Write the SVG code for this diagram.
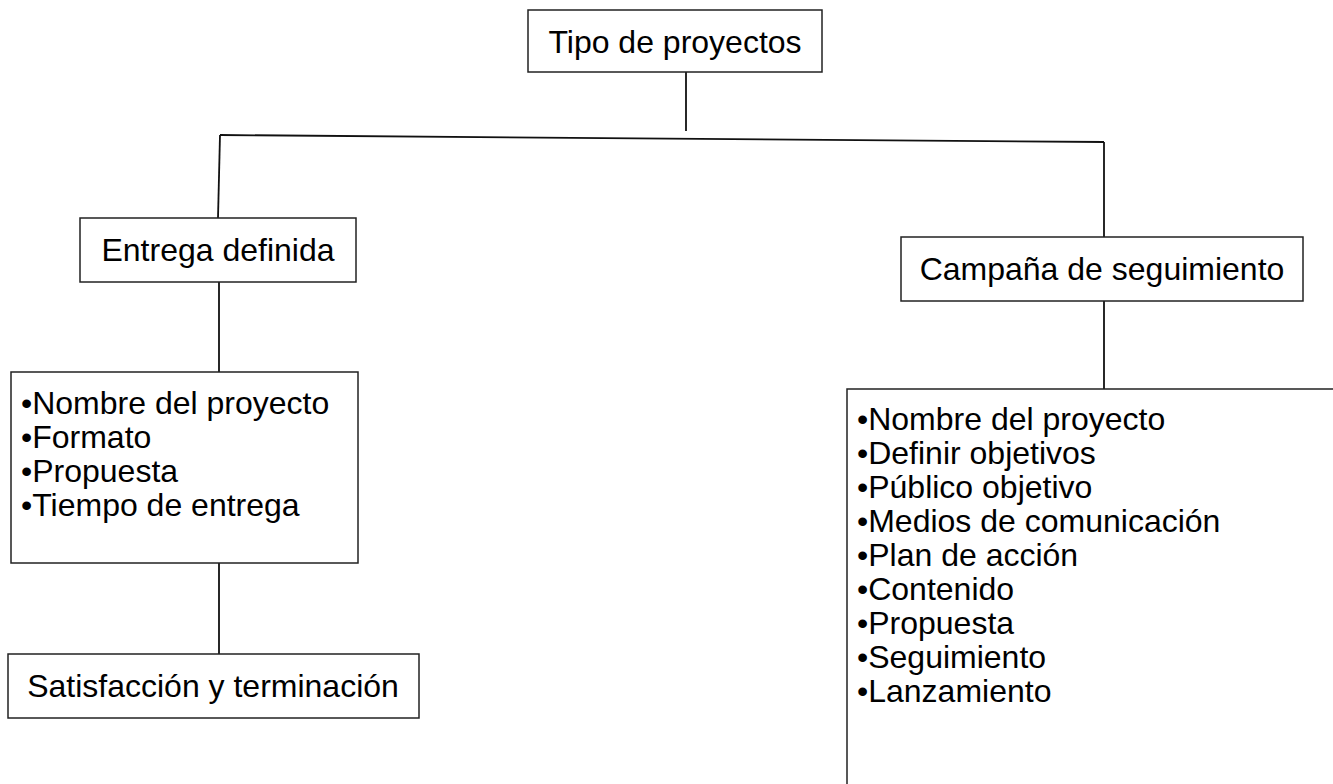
<svg xmlns="http://www.w3.org/2000/svg" width="1333" height="784" viewBox="0 0 1333 784">
<style>
.box{fill:#fff;stroke:#222;stroke-width:1.5}
.t{font-family:"Liberation Sans",Arial,sans-serif;font-size:32px;fill:#000}
.c{text-anchor:middle}
.ln{stroke:#111;stroke-width:1.8;fill:none}
</style>
<rect width="1333" height="784" fill="#fff"/>
<g id="connectors">
<line class="ln" x1="686" y1="72" x2="686" y2="131"/>
<line class="ln" x1="220" y1="135" x2="1104" y2="142"/>
<line class="ln" x1="220" y1="135" x2="218" y2="218"/>
<line class="ln" x1="1104" y1="142" x2="1104" y2="237"/>
<line class="ln" x1="219" y1="282" x2="219" y2="372"/>
<line class="ln" x1="219" y1="563" x2="219" y2="654"/>
<line class="ln" x1="1104" y1="301" x2="1104" y2="389"/>
</g>
<g id="tipo">
<rect class="box" x="528" y="10" width="294" height="62"/>
<text class="t c" x="675" y="53">Tipo de proyectos</text>
</g>
<g id="entrega">
<rect class="box" x="80" y="218" width="276" height="64"/>
<text class="t c" x="218" y="261">Entrega definida</text>
</g>
<g id="campana">
<rect class="box" x="901" y="237" width="402" height="64"/>
<text class="t c" x="1102" y="280">Campaña de seguimiento</text>
</g>
<g id="lista-entrega">
<rect class="box" x="11" y="372" width="347" height="191"/>
<text class="t" x="21" y="414">•Nombre del proyecto</text>
<text class="t" x="21" y="448">•Formato</text>
<text class="t" x="21" y="482">•Propuesta</text>
<text class="t" x="21" y="516">•Tiempo de entrega</text>
</g>
<g id="satisfaccion">
<rect class="box" x="8" y="654" width="411" height="64"/>
<text class="t c" x="213" y="697">Satisfacción y terminación</text>
</g>
<g id="lista-campana">
<rect class="box" x="847" y="389" width="520" height="420"/>
<text class="t" x="857" y="430">•Nombre del proyecto</text>
<text class="t" x="857" y="464">•Definir objetivos</text>
<text class="t" x="857" y="498">•Público objetivo</text>
<text class="t" x="857" y="532">•Medios de comunicación</text>
<text class="t" x="857" y="566">•Plan de acción</text>
<text class="t" x="857" y="600">•Contenido</text>
<text class="t" x="857" y="634">•Propuesta</text>
<text class="t" x="857" y="668">•Seguimiento</text>
<text class="t" x="857" y="702">•Lanzamiento</text>
</g>
</svg>
